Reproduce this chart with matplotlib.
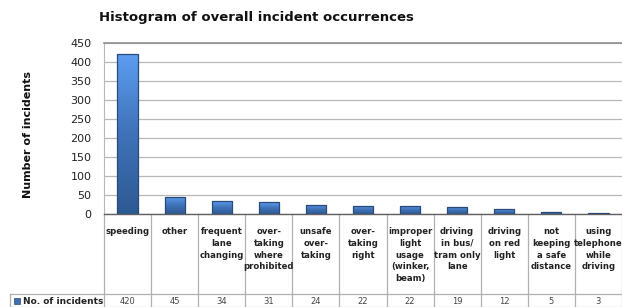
import matplotlib
matplotlib.use("Agg")
import matplotlib.pyplot as plt
import numpy as np
from matplotlib.colors import LinearSegmentedColormap

categories = ["speeding", "other", "frequent\nlane\nchanging", "over-\ntaking\nwhere\nprohibited",
              "unsafe\nover-\ntaking", "over-\ntaking\nright", "improper\nlight\nusage\n(winker,\nbeam)",
              "driving\nin bus/\ntram only\nlane", "driving\non red\nlight", "not\nkeeping\na safe\ndistance",
              "using\ntelephone\nwhile\ndriving"]
values = [420, 45, 34, 31, 24, 22, 22, 19, 12, 5, 3]
series_name = "No. of incidents"
yticks = [0, 50, 100, 150, 200, 250, 300, 350, 400, 450]

W, H = 622, 307
fig = plt.figure(figsize=(W/100, H/100), dpi=100)
x0, x1, ytop, ybot = 104, 622, 43, 214
ax = fig.add_axes([x0/W, 1-ybot/H, (x1-x0)/W, (ybot-ytop)/H])

n = len(values)
x = np.arange(n)
bars = ax.bar(x, values, width=0.43, color="none", edgecolor="#2a4a78", linewidth=0.9, zorder=3)
cmap = LinearSegmentedColormap.from_list("g", ["#2e5a94", "#3f72b8", "#5d9cf0"])
grad = np.linspace(0, 1, 100).reshape(-1, 1)
for b in bars:
    bx, by, bw, bh = b.get_x(), b.get_y(), b.get_width(), b.get_height()
    im = ax.imshow(grad, extent=(bx, bx+bw, by, by+bh), origin="lower", cmap=cmap,
                   aspect="auto", zorder=2.5, interpolation="bilinear")
    im.set_clip_path(b)

ax.set_xlim(-0.5, n-0.5)
ax.set_ylim(0, 450)
ax.set_yticks(yticks)
ax.set_yticklabels([str(v) for v in yticks], fontsize=8, color="#222222")
ax.tick_params(axis="y", length=0, pad=9)
ax.tick_params(axis="x", length=0, labelbottom=False)
ax.grid(axis="y", color="#b8b8b8", linewidth=0.9, zorder=0)
ax.spines["right"].set_visible(False)
ax.spines["top"].set_color("#909090")
ax.spines["top"].set_linewidth(1.2)
ax.spines["left"].set_color("#b8b8b8")
ax.spines["bottom"].set_color("#606060")
ax.spines["bottom"].set_linewidth(1.0)

fig.text(256/W, 1-18/H, "Histogram of overall incident occurrences", ha="center", va="center",
         fontsize=9.5, fontweight="bold", color="#111111")
fig.text(28/W, 1-135/H, "Number of incidents", rotation=90, ha="center", va="center",
         fontsize=8, fontweight="bold", color="#111111")

# table below axes
trans = ax.get_xaxis_transform()
def fy(py):
    return 1 - py/H
lc = "#b0b0b0"
row_sep = 294
for i in range(n+1):
    xx = i - 0.5
    line = plt.Line2D([xx, xx], [0, -(307-214)/(ybot-ytop)], transform=trans, color=lc,
                      linewidth=0.9, clip_on=False)
    ax.add_line(line)
fig.add_artist(plt.Line2D([10/W, 1], [fy(row_sep), fy(row_sep)], color=lc, linewidth=0.9))
fig.add_artist(plt.Line2D([10/W, 10/W], [fy(row_sep), 0], color=lc, linewidth=0.9))
fig.add_artist(plt.Line2D([10/W, 1], [fy(306.5), fy(306.5)], color=lc, linewidth=0.9))

for i, (c, v) in enumerate(zip(categories, values)):
    ax.text(i, -(227-214)/(ybot-ytop), c, transform=trans, ha="center", va="top",
            fontsize=6.1, fontweight="bold", color="#222222", linespacing=1.4)
    ax.text(i, -(301-214)/(ybot-ytop), str(v), transform=trans, ha="center", va="center",
            fontsize=6, color="#444444")

fig.patches.append(plt.Rectangle((14/W, fy(304)), 6/W, 6/H, transform=fig.transFigure,
                                 facecolor="#3f6fb0", edgecolor="#2a4a78", linewidth=0.5))
fig.text(23/W, fy(301), series_name, ha="left", va="center", fontsize=6.5,
         fontweight="bold", color="#222222")

fig.savefig("out.png", dpi=100)
